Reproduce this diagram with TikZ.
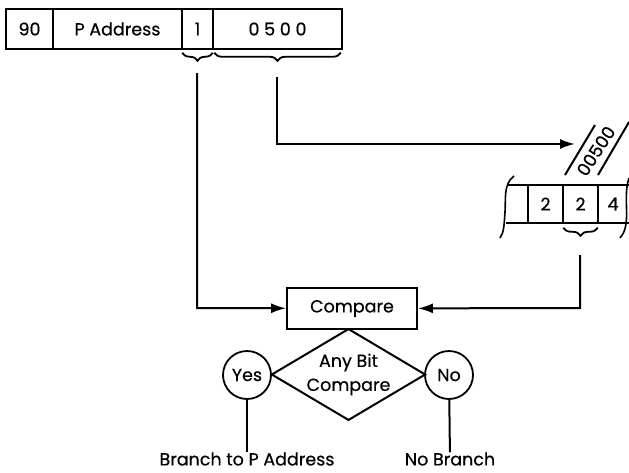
\documentclass[tikz,border=0pt]{standalone}
\usepackage{fontspec}
\setmainfont{Poppins}
\newfontfamily\medfont{Poppins}[FakeBold=0.5]
\usetikzlibrary{arrows.meta}
\usetikzlibrary{backgrounds}
\usetikzlibrary{shapes,shapes.geometric}
\usetikzlibrary{decorations.pathreplacing}
\pgfdeclarelayer{edgelayer}
\pgfdeclarelayer{nodelayer}
\pgfsetlayers{background,edgelayer,nodelayer,main}
\newcommand{\txt}{\fontsize{17.5}{24}\medfont}
\tikzstyle{none}=[inner sep=0mm]
\tikzstyle{cell}=[draw=black,line width=1.5pt,inner sep=0pt,minimum height=40pt,font=\txt]
\tikzstyle{word}=[cell,minimum width=35pt,minimum height=38pt]
\tikzstyle{box}=[draw=black,line width=1.8pt,inner sep=0pt,minimum width=130pt,minimum height=41pt,font=\txt]
\tikzstyle{decision}=[draw=black,line width=2pt,shape=diamond,aspect=1.68,inner sep=0pt,minimum width=153pt,minimum height=91pt,align=center,font=\txt]
\tikzstyle{answer}=[draw=black,line width=1.8pt,shape=circle,inner sep=0pt,minimum size=48pt,font=\txt]
\tikzstyle{outtext}=[inner sep=0pt,font=\txt]
\tikzstyle{wire}=[line width=2pt]
\tikzstyle{diredge}=[wire,-{Latex[length=15pt,width=10pt]}]
\tikzstyle{brc}=[decorate,decoration={brace,mirror,amplitude=8pt},line width=1.8pt]

\begin{document}
\begin{tikzpicture}[x=1pt,y=-1pt]
	\useasboundingbox (0,0) rectangle (629,472);
	\begin{pgfonlayer}{nodelayer}
		% instruction
		\node [style=cell, minimum width=47pt] (0) at (29.5, 29) {90};
		\node [style=cell, minimum width=129pt] (1) at (117.5, 29) {P Address};
		\node [style=cell, minimum width=31pt] (2) at (197.5, 29) {1};
		\node [style=cell, minimum width=129pt] (3) at (277.5, 29) {0 5 0 0};
		\node [style=none] (4) at (197, 73) {};
		\node [style=none] (5) at (197, 308) {};
		\node [style=none] (6) at (277, 77) {};
		\node [style=none] (7) at (277, 144) {};
		\node [style=none] (8) at (575, 144) {};
		% storage
		\node [style=word] (15) at (545.5, 204) {2};
		\node [style=word] (16) at (580.5, 204) {2};
		\node [style=outtext] (17) at (613, 204) {4};
		\node [style=none] (18) at (508, 185) {};
		\node [style=none] (19) at (629, 185) {};
		\node [style=none] (20) at (506, 223) {};
		\node [style=none] (21) at (629, 223) {};
		\node [style=none] (22) at (580, 255) {};
		\node [style=none] (23) at (580, 308) {};
		\node [style=none] (24) at (565, 175) {};
		\node [style=none] (25) at (595, 125) {};
		\node [style=none] (26) at (598, 175) {};
		\node [style=none] (27) at (629, 122) {};
		\node [style=outtext, rotate=57] (28) at (596, 151) {00500};
		% compare
		\node [style=box] (9) at (352, 308.5) {Compare};
		\node [style=decision] (10) at (348.5, 374.5) {Any Bit\\Compare};
		\node [style=answer] (11) at (247, 375) {Yes};
		\node [style=answer] (12) at (449, 375) {No};
		\node [style=outtext] (13) at (247, 459) {Branch to P Address};
		\node [style=outtext] (14) at (450, 459) {No Branch};
	\end{pgfonlayer}
	\begin{pgfonlayer}{edgelayer}
		\draw [style=brc] ([xshift=1pt, yshift=-3pt]2.south west) to ([xshift=-1pt, yshift=-3pt]2.south east);
		\draw [style=brc] ([xshift=2pt, yshift=-3pt]3.south west) to ([xshift=-2pt, yshift=-3pt]3.south east);
		\draw [style=brc] ([xshift=1pt, yshift=-4pt]16.south west) to ([xshift=-1pt, yshift=-4pt]16.south east);
		\draw [style=diredge] (4.center) to (5.center) to (9);
		\draw [style=diredge] (6.center) to (7.center) to (8.center);
		\draw [style=diredge] (22.center) to (23.center) to (9);
		\draw [line width=1.5pt] (18.center) to (19.center);
		\draw [line width=1.5pt] (20.center) to (21.center);
		\draw [style=wire] (24.center) to (25.center);
		\draw [style=wire] (26.center) to (27.center);
		\draw [line width=1.6pt] (514, 176) .. controls (503, 184) and (506, 200) .. (505, 212) .. controls (504, 226) and (504, 232) .. (500, 238);
		\draw [line width=1.6pt] (629, 178) .. controls (624, 192) and (628, 212) .. (626, 224) .. controls (625, 230) and (624, 233) .. (620, 238);
		\draw [style=wire] (11) to (13);
		\draw [style=wire] (12) to (14);
	\end{pgfonlayer}
\end{tikzpicture}
\end{document}
